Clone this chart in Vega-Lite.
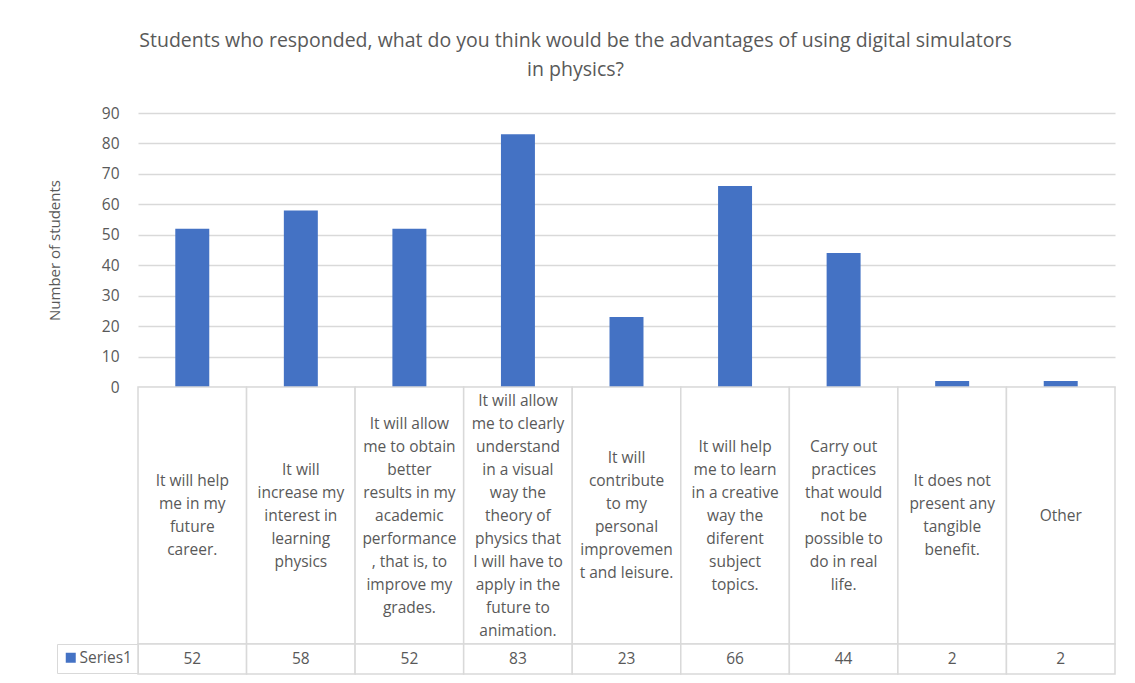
{
  "$schema": "https://vega.github.io/schema/vega-lite/v6.json",
  "background": "white",
  "padding": {"left": 47, "top": 30, "right": 5, "bottom": 5},
  "config": {"view": {"stroke": null}, "font": "Open Sans"},
  "title": {
    "text": ["Students who responded, what do you think would be the advantages of using digital simulators", "in physics?"],
    "fontSize": 19.5,
    "font": "Open Sans",
    "fontWeight": "normal",
    "color": "#595959",
    "lineHeight": 29,
    "anchor": "middle",
    "dx": -6,
    "offset": 26
  },
  "datasets": {
    "d": [
      {"label": "It will help|me in my|future|career.", "value": 52, "series": "Series1"},
      {"label": "It will|increase my|interest in|learning|physics", "value": 58, "series": "Series1"},
      {"label": "It will allow|me to obtain|better|results in my|academic|performance|, that is, to|improve my|grades.", "value": 52, "series": "Series1"},
      {"label": "It will allow|me to clearly|understand|in a visual|way the|theory of|physics that|I will have to|apply in the|future to|animation.", "value": 83, "series": "Series1"},
      {"label": "It will|contribute|to my|personal|improvemen|t and leisure.", "value": 23, "series": "Series1"},
      {"label": "It will help|me to learn|in a creative|way the|diferent|subject|topics.", "value": 66, "series": "Series1"},
      {"label": "Carry out|practices|that would|not be|possible to|do in real|life.", "value": 44, "series": "Series1"},
      {"label": "It does not|present any|tangible|benefit.", "value": 2, "series": "Series1"},
      {"label": "Other", "value": 2, "series": "Series1"}
    ]
  },
  "spacing": 0,
  "bounds": "flush",
  "resolve": {"scale": {"color": "independent"}},
  "vconcat": [
    {
      "width": 977,
      "height": 274,
      "data": {"name": "d"},
      "mark": {"type": "bar", "color": "#4472C4", "width": {"band": 0.313}},
      "encoding": {
        "x": {"field": "label", "type": "nominal", "sort": null, "axis": null, "scale": {"paddingInner": 0, "paddingOuter": 0}},
        "y": {
          "field": "value", "type": "quantitative",
          "scale": {"domain": [0, 90], "nice": false},
          "axis": {
            "values": [0, 10, 20, 30, 40, 50, 60, 70, 80, 90],
            "title": "Number of students",
            "grid": true, "gridColor": "#d9d9d9", "gridWidth": 1.3,
            "domain": false, "ticks": false,
            "labelPadding": 19, "labelFontSize": 15.5, "labelColor": "#595959", "labelFont": "Open Sans",
            "titleFontSize": 15, "titleFontWeight": "normal", "titleColor": "#595959", "titleFont": "Open Sans",
            "titlePadding": 39
          }
        }
      }
    },
    {
      "width": 977,
      "height": 257,
      "data": {"name": "d"},
      "encoding": {
        "x": {"field": "label", "type": "nominal", "sort": null, "axis": null, "scale": {"paddingInner": 0, "paddingOuter": 0}}
      },
      "layer": [
        {"mark": {"type": "rect", "fill": "white", "stroke": "#d9d9d9", "strokeWidth": 1.5}},
        {
          "mark": {
            "type": "text", "lineBreak": "|", "fontSize": 15.5, "font": "Open Sans", "color": "#595959",
            "lineHeight": 23, "baseline": "middle", "align": "center",
            "dy": {"expr": "-(length(split(datum.label, '|')) - 1) * 11.5"}
          },
          "encoding": {"text": {"field": "label"}}
        }
      ]
    },
    {
      "width": 977,
      "height": 30,
      "data": {"name": "d"},
      "encoding": {
        "x": {"field": "label", "type": "nominal", "sort": null, "axis": null, "scale": {"paddingInner": 0, "paddingOuter": 0}}
      },
      "layer": [
        {"mark": {"type": "rect", "fill": "white", "stroke": "#d9d9d9", "strokeWidth": 1.5}},
        {
          "mark": {"type": "text", "fontSize": 15.5, "font": "Open Sans", "color": "#595959", "baseline": "middle", "align": "center"},
          "encoding": {"text": {"field": "value", "type": "quantitative"}}
        },
        {
          "mark": {"type": "point", "shape": "square", "filled": true, "opacity": 0},
          "encoding": {
            "color": {
              "field": "series", "type": "nominal",
              "scale": {"range": ["#4472C4"]},
              "legend": {
                "title": null, "orient": "left", "offset": 0, "padding": 6,
                "strokeColor": "#d9d9d9", "symbolType": "square", "symbolSize": 100,
                "symbolOpacity": 1, "symbolStrokeWidth": 0,
                "labelFontSize": 15.5, "labelFont": "Open Sans", "labelColor": "#595959", "labelOffset": 1
              }
            }
          }
        }
      ]
    }
  ]
}
